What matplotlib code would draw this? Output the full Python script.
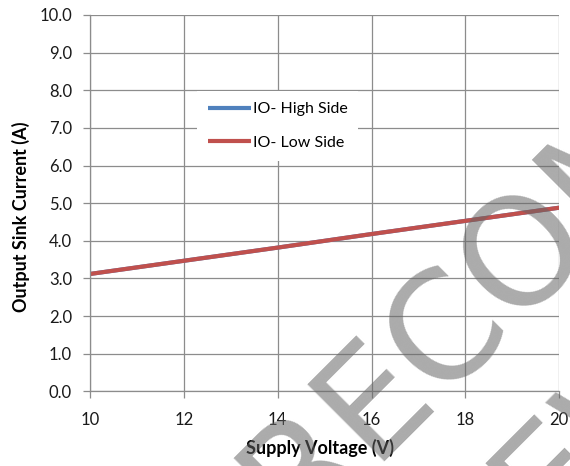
import numpy as np
import matplotlib.pyplot as plt

# data
voltage = [10, 12, 14, 16, 18, 20]
io_high_side = [3.12, 3.47, 3.82, 4.18, 4.53, 4.88]
io_low_side = [3.12, 3.47, 3.82, 4.18, 4.53, 4.88]

x_ticks = [10, 12, 14, 16, 18, 20]
y_ticks = np.arange(0, 11, 1)

plt.rcParams['font.family'] = ['Lato', 'DejaVu Sans']

fig = plt.figure(figsize=(5.7, 4.66), dpi=100)
ax = fig.add_axes([0.158, 0.160, 0.823, 0.808])

ax.plot(voltage, io_high_side, color='#4F81BD', lw=3, label='IO- High Side', solid_capstyle='butt')
ax.plot(voltage, io_low_side, color='#C0504D', lw=3, label='IO- Low Side', solid_capstyle='butt')

ax.set_xlim(10, 20)
ax.set_ylim(0, 10)
ax.set_xticks(x_ticks)
ax.set_yticks(y_ticks)
ax.set_yticklabels([f'{v:.1f}' for v in y_ticks])
ax.grid(True, color='#8c8c8c', lw=0.9)
ax.set_axisbelow(True)
for s in ['top', 'right']:
    ax.spines[s].set_visible(False)
for s in ['left', 'bottom']:
    ax.spines[s].set_color('#8c8c8c')
    ax.spines[s].set_linewidth(0.9)
ax.tick_params(colors='#8c8c8c', labelcolor='#1a1a1a', length=5, width=0.9,
               labelsize=12)
ax.tick_params(axis='y', pad=8)
ax.tick_params(axis='x', pad=10)

ax.set_xlabel('Supply Voltage (V)', fontsize=13, fontweight='bold')
ax.set_ylabel('Output Sink Current (A)', fontsize=13, fontweight='bold')
ax.xaxis.set_label_coords(0.49, -0.125)
ax.yaxis.set_label_coords(-0.128, 0.463)

leg = ax.legend(loc='upper left', bbox_to_anchor=(0.345, 0.805), bbox_transform=fig.transFigure,
                fontsize=11.5, handlelength=2.7, handletextpad=0.1, labelspacing=1.2,
                frameon=True, fancybox=False, framealpha=1, borderpad=0.7, borderaxespad=0)
leg.get_frame().set_edgecolor('none')
leg.get_frame().set_facecolor('white')

# watermark
wm = dict(fontsize=108, family='DejaVu Sans', color='0.4', alpha=0.55,
          rotation=45, rotation_mode='anchor', ha='left', va='baseline')
fig.text(0.070, -0.730, 'NOT RECOMMENDED', **wm)
fig.text(0.388, -0.891, 'FOR NEW DESIGNS', **wm)

fig.savefig('out.png', dpi=100)
